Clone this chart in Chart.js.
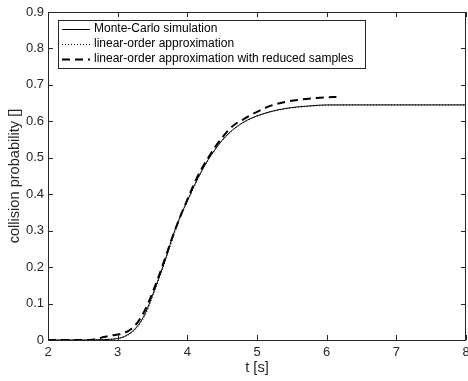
<!DOCTYPE html>
<html>
<head>
<meta charset="utf-8">
<script src="https://cdn.jsdelivr.net/npm/chart.js@4"></script>
<style>
  body { margin: 0; background: #fff; }
  #wrap { width: 468px; height: 381px; }
</style>
</head>
<body>
<div id="wrap"><canvas id="collisionChart" width="468" height="381"></canvas></div>
<script>
// time axis values for each curve
var tMC = [2.0, 2.2, 2.4, 2.6, 2.8, 2.9, 3.0, 3.1, 3.2, 3.3, 3.4, 3.5, 3.6, 3.7, 3.8, 3.9, 4.0, 4.1, 4.2, 4.3, 4.4, 4.5, 4.6, 4.7, 4.8, 4.9, 5.0, 5.2, 5.4, 5.6, 5.8, 6.0, 6.5, 7.0, 7.5, 8.0];
var monteCarlo = [0, 0, 0, 0, 0.001, 0.002, 0.004, 0.01, 0.022, 0.042, 0.075, 0.123, 0.175, 0.23, 0.29, 0.34, 0.382, 0.424, 0.462, 0.495, 0.523, 0.548, 0.568, 0.584, 0.597, 0.607, 0.615, 0.627, 0.635, 0.640, 0.643, 0.645, 0.645, 0.645, 0.645, 0.645];
var linearApprox = [0, 0, 0, 0, 0.001, 0.002, 0.004, 0.009, 0.02, 0.039, 0.07, 0.117, 0.17, 0.225, 0.285, 0.336, 0.379, 0.421, 0.46, 0.494, 0.522, 0.547, 0.567, 0.583, 0.596, 0.606, 0.614, 0.626, 0.634, 0.639, 0.642, 0.644, 0.645, 0.645, 0.645, 0.645];

var tReduced = [2.0, 2.6, 2.7, 2.8, 2.9, 3.0, 3.1, 3.2, 3.3, 3.4, 3.5, 3.6, 3.7, 3.8, 3.9, 4.0, 4.1, 4.2, 4.3, 4.4, 4.5, 4.6, 4.7, 4.8, 4.9, 5.0, 5.2, 5.4, 5.6, 5.8, 6.0, 6.14];
var reducedSamples = [0, 0, 0.003, 0.008, 0.012, 0.015, 0.02, 0.031, 0.052, 0.085, 0.13, 0.18, 0.235, 0.29, 0.34, 0.385, 0.43, 0.468, 0.5, 0.53, 0.555, 0.578, 0.594, 0.605, 0.616, 0.626, 0.643, 0.653, 0.659, 0.663, 0.666, 0.667];

var seriesLabels = ["Monte-Carlo simulation", "linear-order approximation", "linear-order approximation with reduced samples"];
var xTicks = [2, 3, 4, 5, 6, 7, 8];
var yTicks = [0, 0.1, 0.2, 0.3, 0.4, 0.5, 0.6, 0.7, 0.8, 0.9];

var axisColor = "#262626";
var fontFamily = "'Liberation Sans', Arial, Helvetica, sans-serif";

function toPoints(xs, ys) {
  var pts = [];
  for (var i = 0; i < xs.length; i++) pts.push({ x: xs[i], y: ys[i] });
  return pts;
}

// matlab style box with inward ticks and legend inside the axes
var boxPlugin = {
  id: "matlabBox",
  afterDraw: function (chart) {
    var ctx = chart.ctx;
    var a = chart.chartArea;
    var sx = chart.scales.x, sy = chart.scales.y;
    ctx.save();
    ctx.strokeStyle = axisColor;
    ctx.lineWidth = 1;
    ctx.beginPath();
    ctx.rect(Math.round(a.left) + 0.5, Math.round(a.top) + 0.5, Math.round(a.right - a.left) - 1, Math.round(a.bottom - a.top));
    ctx.stroke();
    var tl = 5;
    ctx.beginPath();
    xTicks.forEach(function (v) {
      var px = Math.round(sx.getPixelForValue(v)) + 0.5;
      ctx.moveTo(px, a.bottom); ctx.lineTo(px, a.bottom - tl);
      ctx.moveTo(px, a.top); ctx.lineTo(px, a.top + tl);
    });
    yTicks.forEach(function (v) {
      var py = Math.round(sy.getPixelForValue(v)) + 0.5;
      ctx.moveTo(a.left, py); ctx.lineTo(a.left + tl, py);
      ctx.moveTo(a.right, py); ctx.lineTo(a.right - tl, py);
    });
    ctx.stroke();

    // legend
    var lx = 58.5, ly = 20.5, lw = 307, lh = 48;
    ctx.fillStyle = "#fff";
    ctx.fillRect(lx, ly, lw, lh);
    ctx.strokeStyle = axisColor;
    ctx.strokeRect(lx, ly, lw, lh);
    ctx.font = "12px " + fontFamily;
    ctx.textBaseline = "middle";
    ctx.textAlign = "left";
    chart.data.datasets.forEach(function (ds, i) {
      var ry = 29 + i * 15;
      ctx.strokeStyle = ds.borderColor;
      ctx.lineWidth = ds.borderWidth;
      ctx.setLineDash(ds.borderDash || []);
      ctx.beginPath();
      ctx.moveTo(62, ry + 0.5);
      ctx.lineTo(90, ry + 0.5);
      ctx.stroke();
      ctx.setLineDash([]);
      ctx.fillStyle = "#000";
      ctx.fillText(ds.label, 94, ry);
    });
    ctx.restore();
  }
};

var ctx = document.getElementById("collisionChart").getContext("2d");
var myChart = new Chart(ctx, {
  type: "line",
  data: {
    datasets: [{
      label: seriesLabels[0],
      data: toPoints(tMC, monteCarlo),
      borderColor: "#000",
      borderWidth: 1,
      pointRadius: 0,
      cubicInterpolationMode: "monotone"
    }, {
      label: seriesLabels[1],
      data: toPoints(tMC, linearApprox),
      borderColor: "#000",
      borderWidth: 1,
      borderDash: [1, 2],
      pointRadius: 0,
      cubicInterpolationMode: "monotone"
    }, {
      label: seriesLabels[2],
      data: toPoints(tReduced, reducedSamples),
      borderColor: "#000",
      borderWidth: 2,
      borderDash: [8, 5],
      pointRadius: 0,
      cubicInterpolationMode: "monotone"
    }]
  },
  options: {
    responsive: false,
    animation: false,
    layout: { padding: { top: 12, right: 2, left: 0, bottom: 0 } },
    plugins: {
      legend: { display: false },
      tooltip: { enabled: false }
    },
    scales: {
      x: {
        type: "linear",
        min: 2,
        max: 8,
        afterBuildTicks: function (scale) {
          scale.ticks = xTicks.map(function (v) { return { value: v }; });
        },
        grid: { display: false, drawTicks: false },
        border: { display: false },
        ticks: { color: axisColor, font: { size: 13, family: fontFamily }, padding: 5, maxRotation: 0 },
        title: { display: true, text: "t [s]", color: axisColor, font: { size: 14.6, family: fontFamily }, padding: { top: 0, bottom: 4 } },
        afterFit: function (scale) { scale.height = 41; scale.paddingLeft = 0; scale.paddingRight = 0; }
      },
      y: {
        min: 0,
        max: 0.9,
        afterBuildTicks: function (scale) {
          scale.ticks = yTicks.map(function (v) { return { value: v }; });
        },
        grid: { display: false, drawTicks: false },
        border: { display: false },
        ticks: {
          color: axisColor, font: { size: 13, family: fontFamily }, padding: 4,
          callback: function (v) { return String(+v.toFixed(1)); }
        },
        title: { display: true, text: "collision probability []", color: axisColor, font: { size: 14.6, family: fontFamily }, padding: { top: 6, bottom: 0 } },
        afterFit: function (scale) { scale.width = 48; scale.paddingTop = 0; scale.paddingBottom = 0; }
      }
    }
  },
  plugins: [boxPlugin]
});
</script>
</body>
</html>
